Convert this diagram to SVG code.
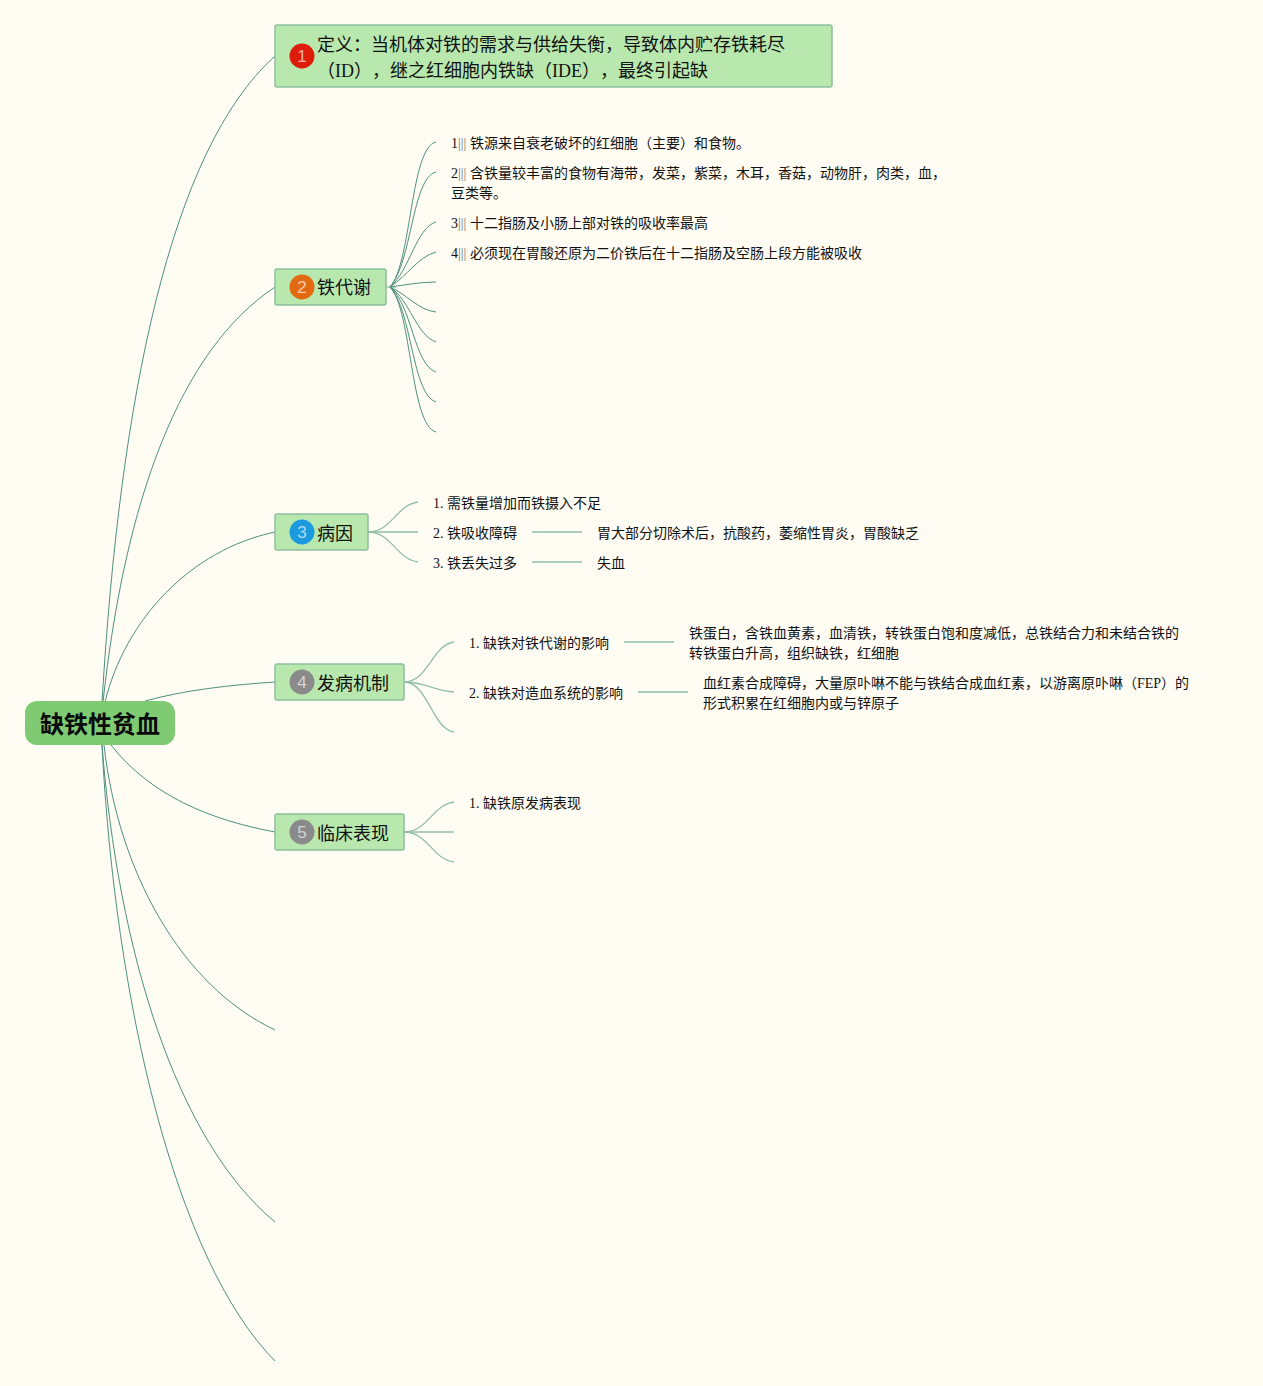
<svg xmlns="http://www.w3.org/2000/svg" width="1263" height="1386" viewBox="0 0 1263 1386">
<style>
text{font-family:"Liberation Serif","Noto Sans CJK SC",serif;fill:#111;text-spacing-trim:space-all}
.t{font-size:14px}
.m{font-size:18px}
.bar{fill:#777}
.node{fill:#b9e8ae;stroke:#8cc0a0;stroke-width:1.5}
.n{font-family:"Liberation Sans",sans-serif;font-size:17px;fill:#fff;fill-opacity:.65;text-anchor:middle}
#connectors path{fill:none;stroke:#4f9080;stroke-width:1}
#connectors .s{stroke:#93bfa8;stroke-width:1.3}
</style>
<rect width="1263" height="1386" fill="#fefcf3"/>
<g id="connectors">
<path d="M102 702C120 400 170 150 275 56"/>
<path d="M103 702C125 500 180 350 275 287"/>
<path d="M105 702C125 620 190 550 275 532"/>
<path d="M145 701C185 690 230 685 275 682"/>
<path d="M111 745C150 795 210 820 275 832"/>
<path d="M104 745C118 870 180 985 275 1030"/>
<path d="M102 745C118 950 176 1140 275 1222"/>
<path d="M102 745C115 1000 175 1260 275 1361"/>
<g>
<path class="s" d="M386 287H396"/>
<path d="M390 287C412 262 410 148 436 142"/>
<path d="M390 287C412 262 412 178 436 172"/>
<path d="M390 287C410 270 416 228 436 222"/>
<path d="M390 287C408 275 418 257 436 252"/>
<path d="M390 287C405 285 420 282 436 282"/>
<path d="M390 287C408 295 418 310 436 312"/>
<path d="M390 287C410 300 416 335 436 342"/>
<path d="M390 287C412 305 414 365 436 372"/>
<path d="M390 287C412 310 412 395 436 402"/>
<path d="M390 287C412 310 410 425 436 432"/>
</g>
<path class="s" d="M368 532C392 532 396 505 418 502"/>
<path class="s" d="M368 532H418"/>
<path class="s" d="M368 532C392 532 396 559 418 562"/>
<path class="s" d="M532 532H582M532 562H582"/>
<path class="s" d="M404 682C428 682 432 645 454 642"/>
<path class="s" d="M404 682C425 682 435 691 454 692"/>
<path class="s" d="M404 682C428 682 432 729 454 732"/>
<path class="s" d="M624 642H674M638 692H688"/>
<path class="s" d="M404 832C428 832 432 805 454 802"/>
<path class="s" d="M404 832H454"/>
<path class="s" d="M404 832C428 832 432 859 454 862"/>
</g>
<g id="root">
<rect x="25" y="701" width="150" height="44" rx="12" fill="#7fcb74"/>
<text x="100" y="733" font-size="24" font-weight="bold" text-anchor="middle" style="fill:#0a0a0a">缺铁性贫血</text>
</g>
<g id="n1">
<rect class="node" x="275" y="25" width="557" height="62" rx="2"/>
<circle cx="302" cy="56" r="12.5" fill="#dd1c0a"/>
<text class="n" x="302" y="62">1</text>
<text class="m" x="317" y="51">定义：当机体对铁的需求与供给失衡，导致体内贮存铁耗尽</text>
<text class="m" x="317" y="77">（ID），继之红细胞内铁缺（IDE），最终引起缺</text>
</g>
<g id="n2">
<rect class="node" x="275" y="269" width="111" height="36" rx="2"/>
<circle cx="302" cy="287" r="12.5" fill="#e26b12"/>
<text class="n" x="302" y="293">2</text>
<text class="m" x="317" y="294">铁代谢</text>
</g>
<g id="n3">
<rect class="node" x="275" y="514" width="93" height="36" rx="2"/>
<circle cx="302" cy="532" r="12.5" fill="#1b9bde"/>
<text class="n" x="302" y="538">3</text>
<text class="m" x="317" y="540">病因</text>
</g>
<g id="n4">
<rect class="node" x="275" y="664" width="129" height="36" rx="2"/>
<circle cx="302" cy="682" r="12.5" fill="#8a8a8a"/>
<text class="n" x="302" y="688">4</text>
<text class="m" x="317" y="690">发病机制</text>
</g>
<g id="n5">
<rect class="node" x="275" y="814" width="129" height="36" rx="2"/>
<circle cx="302" cy="832" r="12.5" fill="#8a8a8a"/>
<text class="n" x="302" y="838">5</text>
<text class="m" x="317" y="840">临床表现</text>
</g>
<g id="n2-items">
<text class="t" x="451" y="148">1<tspan class="bar">|||</tspan> 铁源来自衰老破坏的红细胞（主要）和食物。</text>
<text class="t" x="451" y="178">2<tspan class="bar">|||</tspan> 含铁量较丰富的食物有海带，发菜，紫菜，木耳，香菇，动物肝，肉类，血，</text>
<text class="t" x="451" y="198">豆类等。</text>
<text class="t" x="451" y="228">3<tspan class="bar">|||</tspan> 十二指肠及小肠上部对铁的吸收率最高</text>
<text class="t" x="451" y="258">4<tspan class="bar">|||</tspan> 必须现在胃酸还原为二价铁后在十二指肠及空肠上段方能被吸收</text>
</g>
<g id="n3-items">
<text class="t" x="433" y="508">1. 需铁量增加而铁摄入不足</text>
<text class="t" x="433" y="538">2. 铁吸收障碍</text>
<text class="t" x="597" y="538">胃大部分切除术后，抗酸药，萎缩性胃炎，胃酸缺乏</text>
<text class="t" x="433" y="568">3. 铁丢失过多</text>
<text class="t" x="597" y="568">失血</text>
</g>
<g id="n4-items">
<text class="t" x="469" y="648">1. 缺铁对铁代谢的影响</text>
<text class="t" x="689" y="638">铁蛋白，含铁血黄素，血清铁，转铁蛋白饱和度减低，总铁结合力和未结合铁的</text>
<text class="t" x="689" y="658">转铁蛋白升高，组织缺铁，红细胞</text>
<text class="t" x="469" y="698">2. 缺铁对造血系统的影响</text>
<text class="t" x="703" y="688">血红素合成障碍，大量原卟啉不能与铁结合成血红素，以游离原卟啉（FEP）的</text>
<text class="t" x="703" y="708">形式积累在红细胞内或与锌原子</text>
</g>
<g id="n5-items">
<text class="t" x="469" y="808">1. 缺铁原发病表现</text>
</g>
</svg>
